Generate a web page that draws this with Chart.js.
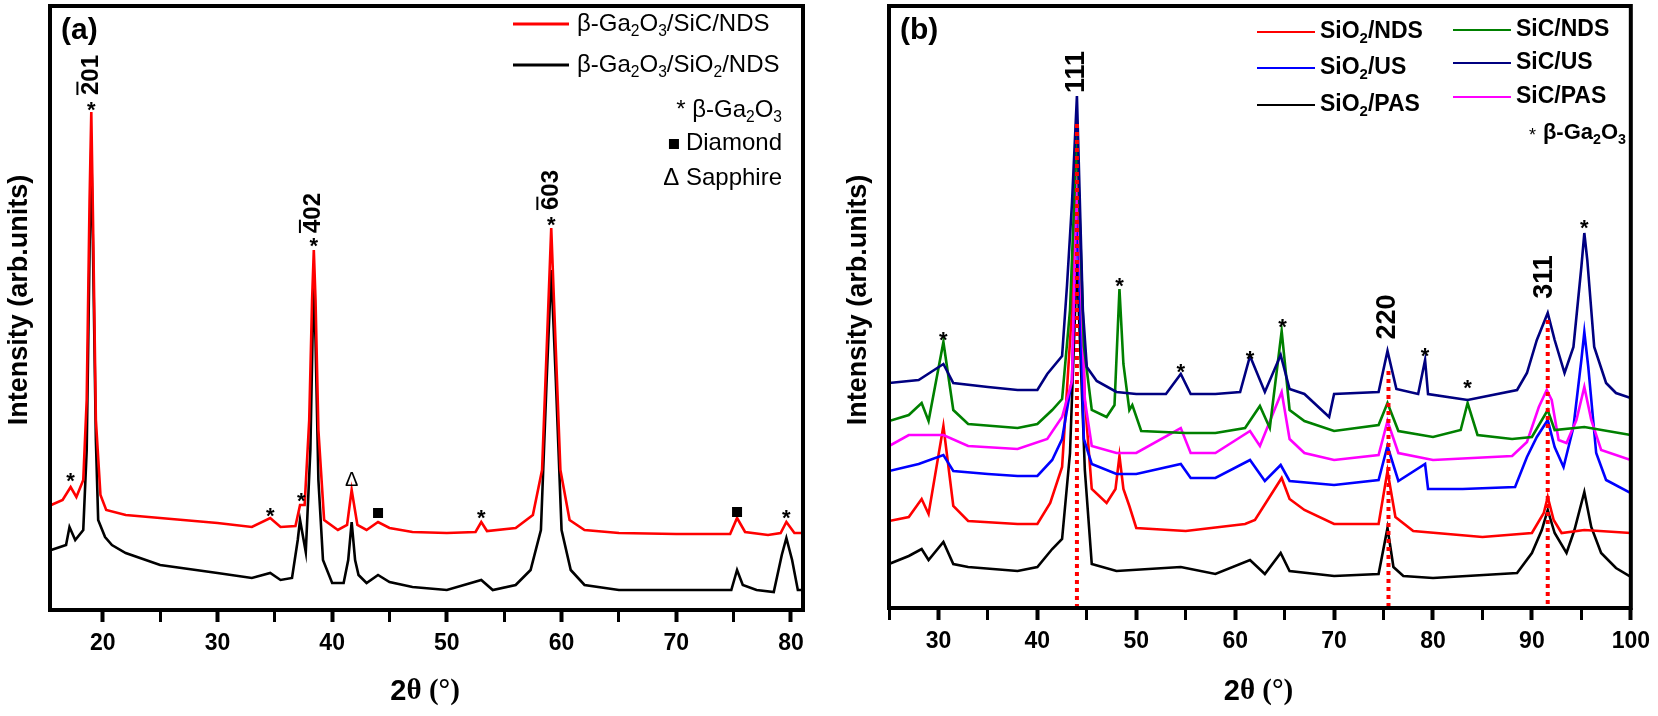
<!DOCTYPE html>
<html>
<head>
<meta charset="utf-8">
<script src="https://cdn.jsdelivr.net/npm/chart.js@4.4.1/dist/chart.umd.min.js"></script>
<style>
  body { margin: 0; background: #fff; }
  canvas { position: absolute; top: 0; }
  #chartA { left: 0; }
  #chartB { left: 829px; }
</style>
</head>
<body>
<canvas id="chartA" width="829" height="716"></canvas>
<canvas id="chartB" width="829" height="716"></canvas>
<script>
// ---- panel (a) data: [2theta, intensity] ----
const gaSiC = [[15.5,105],[16.5,110],[17.2,123],[17.7,113],[18.3,130],[18.6,210],[18.85,410],[19.0,498],[19.15,390],[19.4,190],[19.8,115],[20.3,100],[22,95],[25,92],[30,87],[33,83],[34.6,92],[35.5,83],[36.8,84],[37.2,105],[37.6,105],[38.0,190],[38.25,310],[38.4,360],[38.55,310],[38.8,180],[39.3,90],[40.5,80],[41.3,85],[41.7,120],[42.2,85],[43,80],[44,88],[45,82],[47,78],[50,77],[52.5,78],[53,88],[53.5,79],[56,82],[57.5,95],[58.3,140],[58.7,260],[59.1,382],[59.5,260],[59.9,140],[60.7,90],[62,80],[65,77],[70,76],[74.7,76],[75.3,92],[76,78],[78,75],[79.1,77],[79.6,88],[80.3,77],[81,77]];
const gaSiO2 = [[15.5,60],[16.8,65],[17.1,83],[17.6,70],[18.3,80],[18.6,160],[18.85,360],[19.0,462],[19.15,360],[19.4,170],[19.6,90],[20.2,73],[20.8,65],[22,57],[25,45],[30,37],[33,32],[34.6,37],[35.5,30],[36.5,32],[37.0,70],[37.2,90],[37.7,58],[38.1,160],[38.3,280],[38.4,322],[38.55,270],[38.8,130],[39.2,50],[40,27],[41,27],[41.4,50],[41.7,88],[42.0,50],[42.3,35],[43,27],[44,35],[45,28],[47,23],[50,20],[53,30],[54,20],[56,25],[57.3,40],[58.2,80],[58.7,230],[59.1,340],[59.5,230],[60,80],[60.8,40],[62,25],[65,20],[70,20],[74.8,20],[75.3,40],[75.8,25],[77,20],[78.5,18],[79.2,55],[79.6,72],[80.1,50],[80.6,20],[81,20]];
const aTicks = [20, 30, 40, 50, 60, 70, 80];
const aStars = [[17.2,132],[19.0,503],[34.6,97],[37.3,112],[38.4,367],[53,95],[59.1,388],[79.6,95]];
const aTriangles = [[41.7,130]];
const aSquares = [[44,97],[75.3,98]];
const aHkl = [['201',19.0,535],['402',38.4,397],['603',59.1,420]];

// ---- panel (b) data ----
const sio2PAS = [[25,44],[27,52],[28.3,59],[29,48],[30.5,66],[31.5,44],[33,41],[38,37],[40,41],[41.5,59],[42.5,69],[43.3,155],[44,348],[44.8,138],[45.5,44],[48,37],[54.5,41],[58,34],[61.5,48],[63,34],[64.6,55],[65.5,37],[70,32],[74.5,34],[75.4,80],[76,41],[77,32],[80,30],[88.5,35],[90,55],[91,78],[91.6,98],[92.3,75],[93.5,55],[94.3,78],[95.3,116],[96,81],[97,55],[98.5,40],[100,31]];
const sio2NDS = [[25,87],[27,91],[28.3,109],[29,94],[30.5,182],[31.5,102],[33,87],[38,84],[40,84],[41.3,105],[42.5,141],[43.5,298],[44,478],[44.8,208],[45.5,119],[47,105],[47.9,119],[48.3,152],[48.7,119],[49.3,102],[50,80],[55,77],[61,84],[62,88],[64.7,130],[65.5,109],[67,98],[70,84],[74.5,84],[75.4,137],[76.2,91],[78,77],[85,71],[90,75],[91.2,95],[91.6,111],[92.2,88],[93,75],[95.3,78],[100,75]];
const sio2US = [[25,137],[28,144],[30.5,153],[31.5,137],[35,134],[38,132],[40,132],[41.5,148],[42.5,169],[43.5,228],[44,405],[44.7,169],[45.5,144],[48,134],[50,134],[54.5,144],[55.5,130],[58,130],[61.5,148],[63,127],[64.6,143],[65.5,127],[70,123],[74.5,128],[75.4,162],[76.5,127],[79.2,144],[79.5,119],[83,119],[88.3,121],[89.5,151],[90.5,171],[91.6,188],[92.3,161],[93.2,141],[94.2,181],[95,248],[95.3,276],[95.7,241],[96.5,155],[97.5,128],[100,115]];
const sicPAS = [[25,162],[27,173],[30.5,173],[33,162],[38,159],[41,169],[42.5,191],[43.5,227],[44,441],[44.8,208],[45.5,162],[48,155],[50,155],[54.5,180],[55.5,155],[58,155],[61.5,177],[62.5,162],[64.7,216],[65.5,169],[67,155],[70,148],[74.5,153],[75.4,187],[76.5,155],[80,148],[88,152],[89.5,166],[90.7,201],[91.5,218],[92,208],[92.7,168],[93.5,165],[94.5,188],[95.3,221],[96,188],[97,158],[100,148]];
const sicNDS = [[25,187],[27,193],[28.3,205],[29,187],[30.5,266],[31.5,198],[33,184],[38,180],[40,184],[41.5,198],[42.5,209],[43.3,298],[44,477],[44.7,262],[45.5,198],[47,191],[47.8,203],[48.3,319],[48.7,244],[49.3,198],[49.6,203],[50.5,177],[55,175],[58,175],[61,180],[62.5,202],[63.5,180],[64.7,277],[65.5,198],[67,187],[70,177],[74.5,183],[75.4,205],[76.5,177],[80,171],[82.8,178],[83.5,205],[84.5,173],[88,169],[90,171],[91.6,198],[92.3,178],[95.3,181],[100,173]];
const sicUS = [[25,225],[28,228],[30.5,244],[31.5,225],[35,221],[38,218],[40,218],[41,234],[42.5,252],[43,323],[43.5,405],[44,512],[44.6,298],[45,241],[46,227],[48,216],[50,214],[53,214],[54.5,234],[55.5,214],[58,214],[60.5,216],[61.5,252],[63,216],[64.6,253],[65.5,219],[67,214],[69.5,191],[70,214],[74.5,216],[75.4,257],[76.3,219],[78.5,214],[79.2,248],[79.5,214],[83.5,208],[88.5,218],[89.5,235],[90.5,268],[91.6,295],[92.3,268],[93.3,235],[94.2,261],[95,341],[95.3,375],[95.6,348],[96.3,261],[97.5,225],[98.5,215],[100,210]];
const bTicks = [30, 40, 50, 60, 70, 80, 90, 100];
const bStars = [[30.5,271],[48.3,325],[54.5,239],[61.5,252],[64.8,284],[79.2,255],[83.5,223],[95.3,383]];
const bHkl = [['111',44.0,536],['220',75.4,291],['311',91.3,331]];
const bRefLines = [[44.0,484],[75.5,237],[91.6,288]];

const FONT = '"Liberation Sans", Arial, sans-serif';
const NARROW = '"Liberation Sans Narrow", "Liberation Sans", Arial, sans-serif';

function pts(arr) { return arr.map(p => ({ x: p[0], y: p[1] })); }

// text with subscripts: parts = [[text, isSub], ...]; returns left x
function richText(ctx, parts, x, y, size, family, weight, align) {
  let w = 0;
  parts.forEach(p => {
    ctx.font = `${weight} ${p[1] ? size * 0.65 : size}px ${family}`;
    w += ctx.measureText(p[0]).width;
  });
  let cx = align === 'right' ? x - w : x;
  const left = cx;
  ctx.textBaseline = 'middle';
  ctx.textAlign = 'left';
  parts.forEach(p => {
    ctx.font = `${weight} ${p[1] ? size * 0.65 : size}px ${family}`;
    ctx.fillText(p[0], cx, p[1] ? y + size * 0.32 : y);
    cx += ctx.measureText(p[0]).width;
  });
  return left;
}

function hkl(ctx, label, px, py, size, bar) {
  ctx.save();
  ctx.translate(px, py);
  ctx.rotate(-Math.PI / 2);
  ctx.font = `bold ${size}px ${FONT}`;
  ctx.textAlign = 'center';
  ctx.textBaseline = 'middle';
  ctx.fillStyle = '#000';
  ctx.fillText(label, 0, 0);
  if (bar) {
    const w = ctx.measureText(label).width;
    const dw = ctx.measureText(label[0]).width;
    ctx.fillRect(-w / 2, -size * 0.62, dw, 2);
  }
  ctx.restore();
}

function xAxis(min, max, ticks) {
  return {
    type: 'linear', min: min, max: max,
    afterBuildTicks: s => {
      const list = [];
      for (let v = Math.ceil(min / 5) * 5; v <= max + 1e-9; v += 5) list.push({ value: v });
      s.ticks = list;
    },
    afterFit: s => { s.height = 716 - s.chart.options.bottomAxis; },
    ticks: {
      color: '#000', padding: 8, maxRotation: 0, autoSkip: false,
      font: { family: FONT, size: 23, weight: 'bold' },
      callback: v => ticks.includes(Math.round(v)) ? String(Math.round(v)) : ''
    },
    grid: {
      drawOnChartArea: false, tickLength: 12, tickColor: '#000',
      tickWidth: c => (c.tick && Math.round(c.tick.value) % 10 === 0) ? 4 : 3
    },
    border: { display: false }
  };
}

function framePlugin(opts) {
  return {
    id: 'frame',
    afterDatasetsDraw(chart) {
      const ctx = chart.ctx, a = chart.chartArea, xs = chart.scales.x, ys = chart.scales.y;
      ctx.save();
      // reference dotted lines
      (opts.refLines || []).forEach(r => {
        ctx.strokeStyle = '#ff0000';
        ctx.lineWidth = 4;
        ctx.setLineDash([4, 4]);
        ctx.beginPath();
        ctx.moveTo(xs.getPixelForValue(r[0]), ys.getPixelForValue(r[1]));
        ctx.lineTo(xs.getPixelForValue(r[0]), a.bottom);
        ctx.stroke();
      });
      ctx.setLineDash([]);
      // frame
      ctx.strokeStyle = '#000';
      ctx.lineWidth = 4;
      ctx.strokeRect(a.left, a.top, a.right - a.left, a.bottom - a.top);
      ctx.fillStyle = '#000';
      // markers
      ctx.textAlign = 'center';
      ctx.textBaseline = 'middle';
      ctx.font = `bold 22px ${FONT}`;
      opts.stars.forEach(s => ctx.fillText('*', xs.getPixelForValue(s[0]), ys.getPixelForValue(s[1]) + 4));
      ctx.font = `20px ${FONT}`;
      (opts.triangles || []).forEach(s => ctx.fillText('\u0394', xs.getPixelForValue(s[0]), ys.getPixelForValue(s[1])));
      (opts.squares || []).forEach(s => ctx.fillRect(xs.getPixelForValue(s[0]) - 5, ys.getPixelForValue(s[1]) - 5, 10, 10));
      opts.hkl.forEach(h => hkl(ctx, h[0], xs.getPixelForValue(h[1]), ys.getPixelForValue(h[2]), opts.hklSize, opts.bar));
      // panel letter
      ctx.font = `bold 30px ${NARROW}`;
      ctx.textAlign = 'left';
      ctx.fillText(opts.letter, a.left + 11, a.top + 25);
      // axis titles
      ctx.save();
      ctx.translate(opts.yTitleX, 300);
      ctx.rotate(-Math.PI / 2);
      ctx.textAlign = 'center';
      ctx.font = `bold 27px ${FONT}`;
      ctx.fillText('Intensity (arb.units)', 0, 0);
      ctx.restore();
      ctx.font = `bold 29px ${FONT}`;
      const cx = (a.left + a.right) / 2;
      ctx.textAlign = 'right';
      ctx.fillText('2', cx - 20, 692);
      ctx.textAlign = 'left';
      ctx.font = `bold 29px "Liberation Serif", serif`;
      ctx.fillText('\u03b8 (\u00b0)', cx - 20, 692);
      opts.legend(ctx);
      ctx.restore();
    }
  };
}

function legendA(ctx) {
  const rows = [
    ['#ff0000', 24, [['\u03b2-Ga', 0], ['2', 1], ['O', 0], ['3', 1], ['/SiC/NDS', 0]]],
    ['#000000', 65, [['\u03b2-Ga', 0], ['2', 1], ['O', 0], ['3', 1], ['/SiO', 0], ['2', 1], ['/NDS', 0]]]
  ];
  ctx.fillStyle = '#000';
  rows.forEach(r => {
    ctx.strokeStyle = r[0];
    ctx.lineWidth = 3;
    ctx.beginPath(); ctx.moveTo(513, r[1]); ctx.lineTo(569, r[1]); ctx.stroke();
    richText(ctx, r[2], 577, r[1], 24, NARROW, 'normal', 'left');
  });
  richText(ctx, [['* \u03b2-Ga', 0], ['2', 1], ['O', 0], ['3', 1]], 782, 110, 24, NARROW, 'normal', 'right');
  const dl = richText(ctx, [['Diamond', 0]], 782, 143, 24, NARROW, 'normal', 'right');
  ctx.fillRect(dl - 17, 139, 10, 10);
  richText(ctx, [['\u0394 Sapphire', 0]], 782, 178, 24, NARROW, 'normal', 'right');
}

function legendB(ctx) {
  const off = 829;
  const rows = [
    ['#ff0000', 1257, 32, [['SiO', 0], ['2', 1], ['/NDS', 0]]],
    ['#0000ff', 1257, 68, [['SiO', 0], ['2', 1], ['/US', 0]]],
    ['#000000', 1257, 105, [['SiO', 0], ['2', 1], ['/PAS', 0]]],
    ['#008000', 1453, 30, [['SiC/NDS', 0]]],
    ['#000080', 1453, 63, [['SiC/US', 0]]],
    ['#ff00ff', 1453, 97, [['SiC/PAS', 0]]]
  ];
  ctx.fillStyle = '#000';
  rows.forEach(r => {
    ctx.strokeStyle = r[0];
    ctx.lineWidth = 2;
    ctx.beginPath(); ctx.moveTo(r[1] - off, r[2]); ctx.lineTo(r[1] + 58 - off, r[2]); ctx.stroke();
    richText(ctx, r[3], r[1] + 63 - off, r[2], 23, FONT, 'bold', 'left');
  });
  const gl = richText(ctx, [['\u03b2-Ga', 0], ['2', 1], ['O', 0], ['3', 1]], 1626 - off, 133, 22, FONT, 'bold', 'right');
  richText(ctx, [['*', 0]], gl - 14, 136, 18, FONT, 'normal', 'left');
}

function line(data, color, order) {
  return { data: pts(data), borderColor: color, borderWidth: 2.6, pointRadius: 0, fill: false, tension: 0, order: order };
}

const commonOpts = {
  responsive: false, animation: false, devicePixelRatio: 1, parsing: false,
  plugins: { legend: { display: false }, tooltip: { enabled: false } }
};

new Chart(document.getElementById('chartA'), {
  type: 'line',
  data: { datasets: [line(gaSiO2, '#000000', 2), line(gaSiC, '#ff0000', 1)] },
  options: Object.assign({}, commonOpts, {
    bottomAxis: 610,
    layout: { padding: { left: 50, right: 26, top: 6, bottom: 0 } },
    scales: {
      x: xAxis(15.4, 81.05, aTicks),
      y: { display: false, min: 0, max: 604 }
    }
  }),
  plugins: [framePlugin({ stars: aStars, triangles: aTriangles, squares: aSquares, hkl: aHkl, hklSize: 24, bar: true, letter: '(a)', yTitleX: 20, legend: legendA })]
});

new Chart(document.getElementById('chartB'), {
  type: 'line',
  data: {
    datasets: [
      line(sio2PAS, '#000000', 6), line(sio2NDS, '#ff0000', 5), line(sio2US, '#0000ff', 4),
      line(sicPAS, '#ff00ff', 3), line(sicNDS, '#008000', 2), line(sicUS, '#000080', 1)
    ]
  },
  options: Object.assign({}, commonOpts, {
    bottomAxis: 608,
    layout: { padding: { left: 60, right: 22, top: 6, bottom: 0 } },
    scales: {
      x: xAxis(25, 100, bTicks),
      y: { display: false, min: 0, max: 602 }
    }
  }),
  plugins: [framePlugin({ stars: bStars, hkl: bHkl, hklSize: 27, bar: false, letter: '(b)', yTitleX: 30, refLines: bRefLines, legend: legendB })]
});
</script>
</body>
</html>
